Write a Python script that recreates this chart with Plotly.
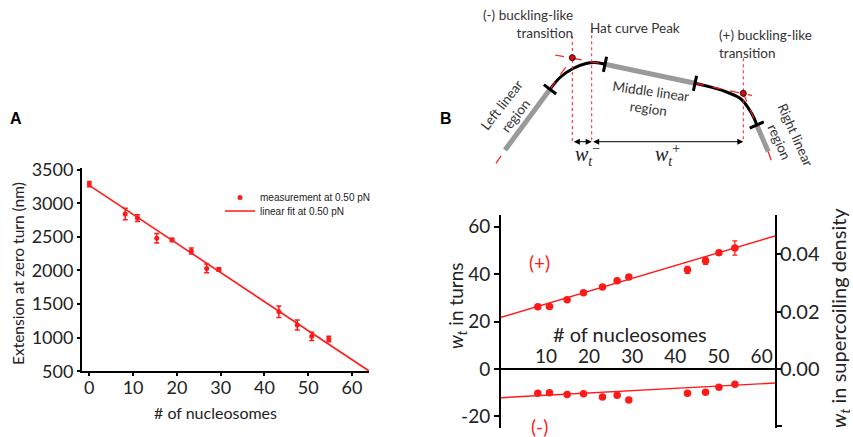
import plotly.graph_objects as go

# ---------------- Panel A data ----------------
nuc_A = [0, 8.2, 11.0, 15.4, 18.9, 23.3, 26.8, 29.6, 43.3, 47.5, 50.8, 54.7]
ext_A = [3285, 2840, 2780, 2480, 2455, 2290, 2030, 2015, 1385, 1190, 1020, 980]
ext_A_err = [40, 85, 50, 70, 25, 45, 65, 25, 85, 75, 60, 40]
fit_A_x = [0, 64]
fit_A_intercept = 3265
fit_A_slope = -43.2
ticks_A_x = [0, 10, 20, 30, 40, 50, 60]
ticks_A_y = [500, 1000, 1500, 2000, 2500, 3000, 3500]

# ---------------- Panel B (bottom) data ----------------
nuc_B = [8.1, 10.8, 14.9, 18.7, 23.1, 26.5, 29.2, 42.8, 47.0, 50.1, 53.8]
wt_plus = [26.2, 26.3, 29.2, 32.1, 34.6, 37.2, 38.8, 41.8, 45.6, 49.0, 51.0]
wt_plus_err = [0.8, 0.8, 0.7, 0.7, 0.7, 0.8, 0.8, 1.5, 1.5, 1.0, 3.0]
wt_minus = [-10.2, -10.0, -10.8, -10.4, -11.8, -11.1, -13.1, -10.2, -9.8, -7.7, -6.4]
wt_minus_err = [0.6, 0.6, 0.6, 0.6, 0.6, 0.6, 0.6, 1.0, 0.8, 0.6, 0.6]
fit_B_x = [-0.43, 63.1]
fit_plus_intercept, fit_plus_slope = 22.0, 0.540
fit_minus_intercept, fit_minus_slope = -12.06, 0.0976
turns_per_density = 1208
ticks_B_x = [10, 20, 30, 40, 50, 60]
ticks_B_y = [-20, 0, 20, 40, 60]
ticks_B_y_text = ["-20", "0", "20", "40", "60"]
ticks_B_y2 = [-0.02, 0.0, 0.02, 0.04]
ticks_B_y2_text = ["-0.02", "0.00", "0.02", "0.04"]

# ---------------- Panel B (top) schematic (drawing units) ----------------
sk_left_gray_x = [505, 550]
sk_left_gray_y = [150, 89.3]
sk_mid_gray_x = [605, 695]
sk_mid_gray_y = [64.3, 83.3]
sk_right_gray_x = [756.7, 768.3]
sk_right_gray_y = [125, 151.7]
sk_curve1_x = [550, 560, 573, 586, 595, 605]
sk_curve1_y = [89.3, 77.5, 68.5, 63.5, 62.5, 64.3]
sk_curve2_x = [695, 723, 740, 748.5, 754.5, 756.7]
sk_curve2_y = [83.3, 90.7, 98.3, 108.3, 119, 125]
sk_ticks_x = [550, 605, 695, 756.7]
sk_ticks_y = [89.3, 64.3, 83.3, 125]
sk_ticks_angle = [-53, 12, 12, 66]
sk_tan_x = [496, 505, None, 550, 572.3, None, 555, 605, None, 695, 752, None, 743.3, 756.7, None, 768.3, 773.3]
sk_tan_y = [163.3, 150, None, 89.3, 57.7, None, 55, 64.3, None, 83.3, 95.5, None, 93.3, 125, None, 151.7, 166.7]
sk_vert_x = [572.3, 572.3, None, 591.7, 591.7, None, 743.3, 743.3]
sk_vert_y = [36, 141.7, None, 29.3, 141.7, None, 58.3, 141.7]
sk_dots_x = [572.3, 743.3]
sk_dots_y = [57.7, 93.3]
sk_arrow_y = 141.7

RED = "#ff1a1a"
FONT = "Lato"
TXT = "#222222"

fig = go.Figure()

# ---- Panel A ----
fig.add_trace(go.Scatter(
    x=nuc_A, y=ext_A, mode="markers", name="measurement at 0.50 pN",
    marker=dict(color=RED, size=5),
    error_y=dict(type="data", array=ext_A_err, color=RED, thickness=1.5, width=2.5),
    xaxis="x", yaxis="y", legend="legend"))
fit_A_y = [fit_A_intercept + fit_A_slope * v for v in fit_A_x]
fig.add_trace(go.Scatter(
    x=fit_A_x, y=fit_A_y, mode="lines", name="linear fit at 0.50 pN",
    line=dict(color=RED, width=1.6), xaxis="x", yaxis="y", legend="legend2"))

# ---- Panel B bottom ----
fit_plus_y = [fit_plus_intercept + fit_plus_slope * v for v in fit_B_x]
fit_minus_y = [fit_minus_intercept + fit_minus_slope * v for v in fit_B_x]
fig.add_trace(go.Scatter(x=fit_B_x, y=fit_plus_y, mode="lines", line=dict(color=RED, width=1.4),
                         xaxis="x2", yaxis="y2", showlegend=False))
fig.add_trace(go.Scatter(x=fit_B_x, y=fit_minus_y, mode="lines", line=dict(color=RED, width=1.4),
                         xaxis="x2", yaxis="y2", showlegend=False))
fig.add_trace(go.Scatter(x=nuc_B, y=wt_plus, mode="markers", marker=dict(color=RED, size=7.5),
                         error_y=dict(type="data", array=wt_plus_err, color=RED, thickness=1.2, width=2.5),
                         xaxis="x2", yaxis="y2", showlegend=False))
fig.add_trace(go.Scatter(x=nuc_B, y=wt_minus, mode="markers", marker=dict(color=RED, size=7.5),
                         error_y=dict(type="data", array=wt_minus_err, color=RED, thickness=1.2, width=2.5),
                         xaxis="x2", yaxis="y2", showlegend=False))
# invisible trace to activate right axis
fig.add_trace(go.Scatter(x=[fit_B_x[0]], y=[0], mode="markers", marker=dict(opacity=0),
                         xaxis="x2", yaxis="y3", showlegend=False, hoverinfo="skip"))

# ---- Panel B top schematic ----
for gx, gy in [(sk_left_gray_x, sk_left_gray_y), (sk_mid_gray_x, sk_mid_gray_y),
               (sk_right_gray_x, sk_right_gray_y)]:
    fig.add_trace(go.Scatter(x=gx, y=gy, mode="lines", line=dict(color="#9a9a9a", width=5),
                             xaxis="x4", yaxis="y4", showlegend=False))
for cx, cy in [(sk_curve1_x, sk_curve1_y), (sk_curve2_x, sk_curve2_y)]:
    fig.add_trace(go.Scatter(x=cx, y=cy, mode="lines", line=dict(color="black", width=3, shape="spline"),
                             xaxis="x4", yaxis="y4", showlegend=False))
fig.add_trace(go.Scatter(x=sk_tan_x, y=sk_tan_y, mode="lines",
                         line=dict(color=RED, width=1.2, dash="dash"), xaxis="x4", yaxis="y4", showlegend=False))
fig.add_trace(go.Scatter(x=sk_vert_x, y=sk_vert_y, mode="lines",
                         line=dict(color=RED, width=1, dash="dot"), xaxis="x4", yaxis="y4", showlegend=False))
fig.add_trace(go.Scatter(x=sk_ticks_x, y=sk_ticks_y, mode="markers",
                         marker=dict(symbol="line-ns", size=11, angle=sk_ticks_angle,
                                     line=dict(color="black", width=3)),
                         xaxis="x4", yaxis="y4", showlegend=False))
fig.add_trace(go.Scatter(x=sk_dots_x, y=sk_dots_y, mode="markers",
                         marker=dict(color="#d01010", size=6, line=dict(color="#400000", width=1)),
                         xaxis="x4", yaxis="y4", showlegend=False))

W, H = 853, 437


def px_x(v):
    return v / W


def px_y(v):
    return 1 - v / H


axis_common = dict(showline=True, linecolor="black", linewidth=2, showgrid=False, zeroline=False,
                   ticks="outside", tickcolor="black", tickwidth=1.5, automargin=False,
                   tickfont=dict(family=FONT, size=18, color=TXT))

yB_range = [-25, 64.9]
yB_dom = [px_y(428.3), px_y(215)]
xB_pos = yB_dom[0] + (0 - yB_range[0]) / (yB_range[1] - yB_range[0]) * (yB_dom[1] - yB_dom[0])


def ann(text, x, y, xref="paper", yref="paper", size=13.5, color=TXT, family=FONT, **kw):
    d = dict(text=text, x=x, y=y, xref=xref, yref=yref, showarrow=False,
             font=dict(family=family, size=size, color=color))
    d.setdefault("xanchor", "center")
    d.setdefault("yanchor", "middle")
    d.update(kw)
    return d


annotations = [
    ann("<b>A</b>", px_x(16), px_y(118), size=16, color="black", family="Liberation Sans"),
    ann("<b>B</b>", px_x(446), px_y(118), size=16, color="black", family="Liberation Sans"),
    # panel A titles
    ann("# of nucleosomes", px_x(216), px_y(412), size=16),
    ann("Extension at zero turn (nm)", px_x(18), px_y(274), size=15.5, textangle=-90),
    # panel B bottom texts
    ann("(+)", 8.6, 44.7, "x2", "y2", size=19, color=RED),
    ann("(-)", 8.6, -24.3, "x2", "y2", size=19, color=RED),
    ann("# of nucleosomes", 29.5, 14.9, "x2", "y2", size=20),
    ann("<i>w</i><sub><i>t</i></sub> in turns", px_x(457), px_y(306), size=19, textangle=-90),
    ann("<i>w</i><sub><i>t</i></sub> in supercoiling density", px_x(839), px_y(318), size=20, textangle=-90),
    # schematic texts
    ann("(-) buckling-like<br>transition", 575, 24, "x4", "y4", color="#333", xanchor="right", align="right"),
    ann("Hat curve Peak", 588, 27.5, "x4", "y4", color="#333", xanchor="left"),
    ann("(+) buckling-like<br>transition", 717, 43.5, "x4", "y4", color="#333", xanchor="left", align="left"),
    ann("Middle linear<br>region", 649, 100, "x4", "y4", color="#333", textangle=8),
    ann("Left linear<br>region", 509, 110, "x4", "y4", color="#333", textangle=-52),
    ann("Right linear<br>region", 787, 138, "x4", "y4", color="#333", textangle=66),
    ann("<i>w</i><sub><i>t</i></sub><sup>−</sup>", 587, 155, "x4", "y4", size=20, family="Liberation Serif"),
    ann("<i>w</i><sub><i>t</i></sub><sup>+</sup>", 667, 155, "x4", "y4", size=20, family="Liberation Serif"),
    # arrows
    dict(text="", x=591.7, y=sk_arrow_y, ax=572.3, ay=sk_arrow_y, xref="x4", yref="y4",
         axref="x4", ayref="y4", showarrow=True, arrowhead=2, startarrowhead=2, arrowside="end+start",
         arrowwidth=1, arrowsize=1.2, startarrowsize=1.2, arrowcolor="black", standoff=0, startstandoff=0),
    dict(text="", x=743.3, y=sk_arrow_y, ax=591.7, ay=sk_arrow_y, xref="x4", yref="y4",
         axref="x4", ayref="y4", showarrow=True, arrowhead=2, startarrowhead=2, arrowside="end+start",
         arrowwidth=1, arrowsize=1.2, startarrowsize=1.2, arrowcolor="black", standoff=0, startstandoff=0),
]

fig.update_layout(
    width=W, height=H, margin=dict(l=0, r=0, t=0, b=0, autoexpand=False),
    paper_bgcolor="white", plot_bgcolor="rgba(0,0,0,0)",
    font=dict(family=FONT, color=TXT),
    xaxis=dict(domain=[px_x(82), px_x(369.3)], range=[-1.67, 63.95], anchor="y",
               tickvals=ticks_A_x, ticklen=3, ticklabelstandoff=-4, **axis_common),
    yaxis=dict(domain=[px_y(371.3), px_y(168.3)], range=[500, 3520], anchor="x",
               tickvals=ticks_A_y, ticklen=3, **axis_common),
    xaxis2=dict(domain=[px_x(501), px_x(775)], range=fit_B_x, anchor="free", position=xB_pos,
                side="top", tickvals=ticks_B_x, ticklen=0, ticklabelstandoff=-3,
                **{**axis_common, "ticks": "", "tickfont": dict(family=FONT, size=19, color=TXT)}),
    yaxis2=dict(domain=yB_dom, range=yB_range, anchor="x2",
                tickvals=ticks_B_y, ticktext=ticks_B_y_text, ticklen=5,
                **{**axis_common, "tickfont": dict(family=FONT, size=19, color=TXT)}),
    yaxis3=dict(overlaying="y2", side="right", anchor="x2",
                range=[yB_range[0] / turns_per_density, yB_range[1] / turns_per_density],
                tickvals=ticks_B_y2, ticktext=ticks_B_y2_text, ticklen=5, ticklabelstandoff=-6,
                **{**axis_common, "tickfont": dict(family=FONT, size=20, color=TXT)}),
    xaxis4=dict(domain=[px_x(440), 1], range=[440, 853], visible=False, anchor="y4", automargin=False),
    yaxis4=dict(domain=[px_y(200), 1], range=[200, 0], visible=False, anchor="x4", automargin=False),
    legend=dict(x=px_x(220), y=px_y(183), xanchor="left", yanchor="top", bgcolor="rgba(0,0,0,0)",
                font=dict(family="Liberation Sans", size=10, color=TXT), borderwidth=0),
    legend2=dict(x=px_x(220), y=px_y(196.5), xanchor="left", yanchor="top", bgcolor="rgba(0,0,0,0)",
                 font=dict(family="Liberation Sans", size=10, color=TXT), borderwidth=0),
    annotations=annotations,
    showlegend=True,
)

fig.write_html("out.html", config={"displayModeBar": False},
               post_script="document.body.style.margin='0';document.body.style.padding='0';"
                           "document.body.style.overflow='hidden';")
